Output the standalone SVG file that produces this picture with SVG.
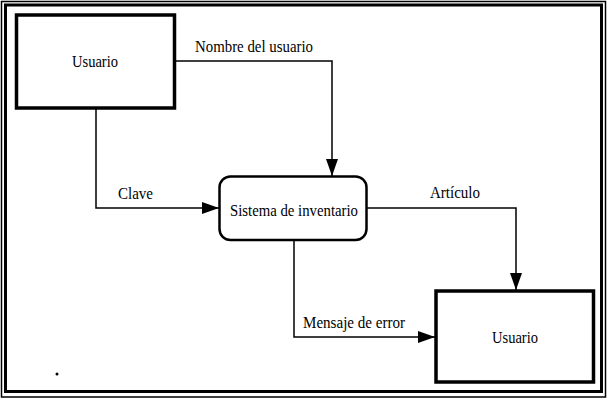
<svg xmlns="http://www.w3.org/2000/svg" width="611" height="400" viewBox="0 0 611 400">
<style>
.t{font-family:"Liberation Serif","Times New Roman",serif;font-size:17px;fill:#000}
.ext{fill:#fff;stroke:#000;stroke-width:3.5}
.proc{fill:#fff;stroke:#000;stroke-width:2.5}
.c{fill:none;stroke:#000;stroke-width:1.5}
</style>
<defs>
<marker id="ah" markerUnits="userSpaceOnUse" markerWidth="17" markerHeight="12" refX="17" refY="6" orient="auto">
<path d="M0,0 L17,6 L0,12 Z" fill="#000"/>
</marker>
</defs>
<rect width="611" height="400" fill="#fff"/>
<g id="frame">
<rect x="1.5" y="1.5" width="604" height="395.5" fill="none" stroke="#000" stroke-width="1.5"/>
<rect x="5.5" y="5" width="596" height="386.5" fill="none" stroke="#000" stroke-width="3"/>
</g>
<g id="connectors">
<path class="c" d="M176,61 H332 V176" marker-end="url(#ah)"/>
<path class="c" d="M96,108 V208 H219" marker-end="url(#ah)"/>
<path class="c" d="M367,208 H516 V290" marker-end="url(#ah)"/>
<path class="c" d="M294,241 V337 H435" marker-end="url(#ah)"/>
<text class="t" x="195" y="52" textLength="118" lengthAdjust="spacingAndGlyphs">Nombre del usuario</text>
<text class="t" x="118" y="199" textLength="35" lengthAdjust="spacingAndGlyphs">Clave</text>
<text class="t" x="430" y="198" textLength="50" lengthAdjust="spacingAndGlyphs">Artículo</text>
<text class="t" x="303" y="328" textLength="102" lengthAdjust="spacingAndGlyphs">Mensaje de error</text>
</g>
<g id="usuario1">
<rect class="ext" x="16.5" y="15" width="158" height="93"/>
<text class="t" x="72" y="67" textLength="46" lengthAdjust="spacingAndGlyphs">Usuario</text>
</g>
<g id="sistema">
<rect class="proc" x="219.5" y="176.5" width="147" height="63.5" rx="11"/>
<text class="t" x="230" y="216" textLength="128" lengthAdjust="spacingAndGlyphs">Sistema de inventario</text>
</g>
<g id="usuario2">
<rect class="ext" x="436" y="291" width="157.5" height="91"/>
<text class="t" x="492" y="343" textLength="46" lengthAdjust="spacingAndGlyphs">Usuario</text>
</g>
<circle cx="57" cy="374" r="1.5" fill="#000"/>
</svg>
